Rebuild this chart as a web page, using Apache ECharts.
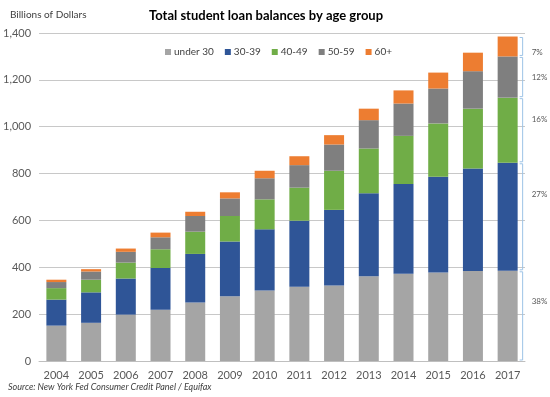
<!DOCTYPE html>
<html><head><meta charset="utf-8">
<script src="https://cdn.jsdelivr.net/npm/echarts@6/dist/echarts.min.js"></script>
<style>html,body{margin:0;padding:0;background:#fff}#c{width:550px;height:397px}</style>
</head><body><div id="c"></div>
<script>
const years = ['2004','2005','2006','2007','2008','2009','2010','2011','2012','2013','2014','2015','2016','2017'];
const under30 = [151,163,198,219,250,276,301,317,322,362,372,378,384,385];
const age30to39 = [111,130,154,178,207,234,261,282,323,354,383,408,438,461];
const age40to49 = [49,54,68,80,95,109,128,141,167,191,206,228,255,278];
const age50to59 = [26,35,46,51,67,75,90,96,112,121,138,149,160,176];
const age60plus = [10,10,14,20,18,26,32,38,40,49,56,68,79,85];
const seriesNames = ['under 30','30-39','40-49','50-59','60+'];
const seriesColors = ['#a5a5a5','#2f5597','#70ad47','#7f7f7f','#ed7d31'];
const shareLabels = ['38%','27%','16%','12%','7%'];
const yTicks = {min:0, max:1400, interval:200};

const FONT = 'Lato, "Open Sans", sans-serif';
const chart = echarts.init(document.getElementById('c'));
const allData = [under30, age30to39, age40to49, age50to59, age60plus];

chart.setOption({
  animation: false,
  backgroundColor: '#fff',
  textStyle: {fontFamily: FONT},
  title: {
    text: 'Total student loan balances by age group',
    left: 144, top: 4,
    textStyle: {fontFamily: FONT, fontSize: 13, fontWeight: 'bold', color: '#000'}
  },
  legend: {
    data: seriesNames,
    left: 160, top: 42,
    itemWidth: 6, itemHeight: 6, itemGap: 11,
    icon: 'rect',
    textStyle: {fontFamily: FONT, fontSize: 10, color: '#404040', padding: [0,0,0,-2]}
  },
  grid: {left: 35, right: 25, top: 33, bottom: 36, containLabel: false},
  xAxis: {
    type: 'category', data: years,
    axisLine: {lineStyle: {color: '#bfbfbf'}},
    axisTick: {show: false},
    axisLabel: {fontFamily: FONT, fontSize: 11, color: '#595959', margin: 9}
  },
  yAxis: {
    type: 'value', min: yTicks.min, max: yTicks.max, interval: yTicks.interval,
    axisLine: {show: false}, axisTick: {show: false},
    splitLine: {lineStyle: {color: '#c8c8c8'}},
    axisLabel: {
      fontFamily: FONT, fontSize: 11, color: '#595959', margin: 8,
      formatter: v => v.toLocaleString('en-US')
    }
  },
  series: seriesNames.map((n, i) => ({
    name: n, type: 'bar', stack: 'total', data: allData[i],
    barWidth: 20,
    itemStyle: {color: seriesColors[i]}
  }))
});

// annotations: brackets for the last bar's segments
const last = years.length - 1;
const xc = chart.convertToPixel({xAxisIndex: 0}, years[last]);
const bx = xc + 15;
const labelFrac = [0.34, 0.29, 0.33, 0.5, 0.83];
const graphics = [];
let cum = 0;
for (let i = 0; i < allData.length; i++) {
  const lo = cum, hi = cum + allData[i][last];
  cum = hi;
  const yLo = chart.convertToPixel({yAxisIndex: 0}, lo) - 1;
  const yHi = chart.convertToPixel({yAxisIndex: 0}, hi) + 1;
  graphics.push({
    type: 'polyline', silent: true,
    shape: {points: [[bx - 3, yHi], [bx, yHi], [bx, yLo], [bx - 3, yLo]]},
    style: {stroke: '#9dc3e6', lineWidth: 1, fill: null}
  });
  graphics.push({
    type: 'text', silent: true,
    x: bx + 9, y: yHi + (yLo - yHi) * labelFrac[i],
    style: {text: shareLabels[i], font: '8px ' + FONT, fill: '#595959', verticalAlign: 'middle', align: 'left'}
  });
}
graphics.push({
  type: 'text', left: 10, top: 10, silent: true,
  style: {text: 'Billions of Dollars', font: '10px ' + FONT, fill: '#404040'}
});
graphics.push({
  type: 'text', left: 8, top: 383, silent: true,
  style: {text: 'Source: New York Fed Consumer Credit Panel / Equifax', font: 'italic 9px ' + FONT, fill: '#404040'}
});
chart.setOption({graphic: graphics});
</script>
</body></html>
